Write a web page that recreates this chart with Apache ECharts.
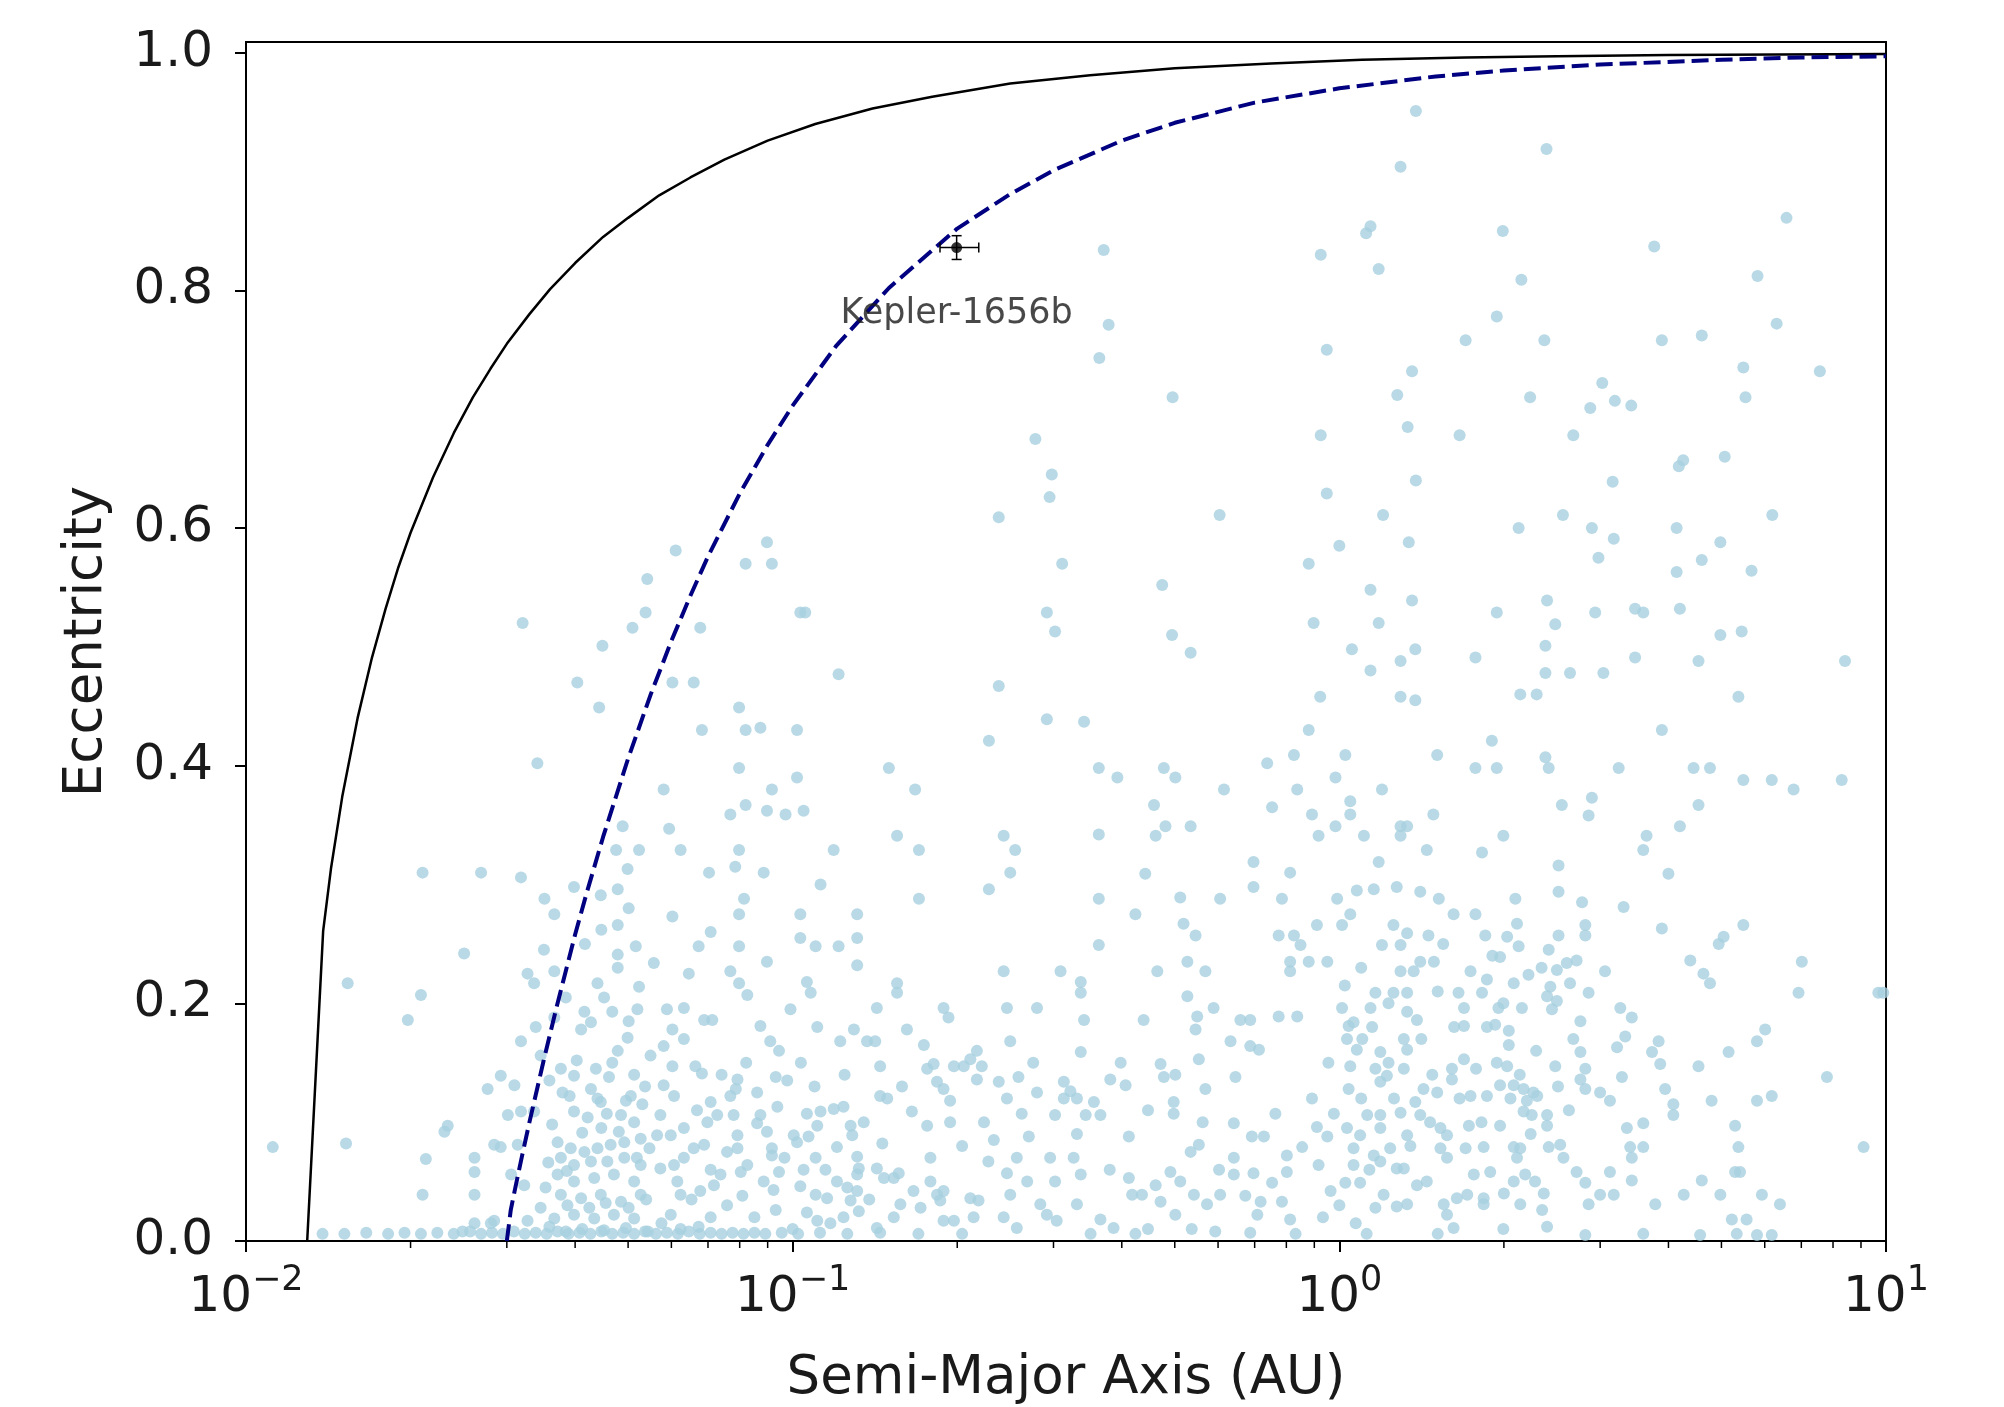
<!DOCTYPE html>
<html>
<head>
<meta charset="utf-8">
<title>Eccentricity vs Semi-Major Axis</title>
<script src="https://cdn.jsdelivr.net/npm/echarts@6.0.0/dist/echarts.min.js"></script>
<style>
  html, body { margin: 0; padding: 0; background: #fff; }
  #chart { width: 2004px; height: 1407px; }
</style>
</head>
<body>
<div id="chart"></div>
<script>
// planets: [log10(semi-major axis / AU), eccentricity]
const highEccentricity = [
  [-0.431,0.834],[-0.422,0.771],[-0.439,0.743],[-0.305,0.710],[-0.556,0.675],[-0.526,0.645],[-0.530,0.626],[-0.623,0.609],[-0.219,0.611],
  [0.140,0.951],[0.379,0.919],[0.112,0.904],[0.057,0.854],[0.049,0.848],[0.299,0.850],[0.818,0.861],[-0.034,0.830],[0.576,0.837],
  [0.072,0.818],[0.333,0.809],[0.765,0.812],[0.288,0.778],[0.800,0.772],[-0.023,0.750],[0.231,0.758],[0.375,0.758],[0.590,0.758],
  [0.663,0.762],[0.879,0.732],[0.133,0.732],[0.739,0.735],[0.481,0.722],[0.106,0.712],[0.349,0.710],[0.459,0.701],[0.504,0.707],
  [0.534,0.703],[0.743,0.710],[-0.034,0.678],[0.125,0.685],[0.220,0.678],[0.428,0.678],[0.629,0.657],[0.621,0.652],[0.705,0.660],
  [0.500,0.639],[0.140,0.640],[-0.023,0.629],[0.080,0.611],[0.409,0.611],[0.792,0.611]
];

const midEccentricity = [
  [-1.494,0.520],[-1.266,0.557],[-1.269,0.529],[-1.293,0.516],[-1.348,0.501],[-1.394,0.470],[-1.354,0.449],[-1.467,0.402],
  [-1.311,0.349],[-1.323,0.329],[-1.281,0.329],[-1.302,0.313],[-1.677,0.310],[-1.570,0.310],[-1.497,0.306],
  [-1.214,0.581],[-1.047,0.588],[-1.086,0.570],[-1.038,0.570],[-0.986,0.529],[-0.977,0.529],[-1.169,0.516],[-1.220,0.470],
  [-1.181,0.470],[-0.916,0.477],[-1.098,0.449],[-1.166,0.430],[-1.086,0.430],[-1.059,0.432],[-0.992,0.430],[-1.098,0.398],
  [-0.992,0.390],[-1.236,0.380],[-1.038,0.380],[-1.086,0.367],[-1.114,0.359],[-1.047,0.362],[-1.013,0.359],[-0.980,0.362],
  [-1.226,0.347],[-1.205,0.329],[-1.098,0.329],[-1.105,0.315],[-1.153,0.310],[-1.053,0.310],[-0.925,0.329],[-0.824,0.398],
  [-0.776,0.380],[-0.809,0.341],[-0.769,0.329],[-0.507,0.570],[-0.535,0.529],[-0.520,0.513],[-0.623,0.467],[-0.535,0.439],
  [-0.641,0.421],[-0.614,0.341],[-0.593,0.329],[-0.602,0.310],
  [0.000,0.585],[0.127,0.588],[-0.056,0.570],[-0.324,0.552],[0.057,0.548],[0.133,0.539],[-0.047,0.520],[0.072,0.520],
  [-0.306,0.510],[-0.272,0.495],[0.023,0.498],[0.139,0.498],[0.112,0.488],[0.057,0.480],[-0.035,0.458],[0.112,0.458],
  [0.139,0.455],[-0.467,0.437],[-0.056,0.430],[-0.083,0.409],[0.011,0.409],[0.179,0.409],[-0.132,0.402],[-0.440,0.398],
  [-0.406,0.390],[-0.321,0.398],[-0.300,0.390],[-0.211,0.380],[-0.077,0.380],[-0.007,0.390],[0.078,0.380],[-0.339,0.367],
  [-0.123,0.365],[-0.050,0.359],[0.020,0.370],[0.020,0.359],[0.172,0.359],[-0.440,0.342],[-0.336,0.341],[-0.318,0.349],
  [-0.272,0.349],[-0.038,0.341],[-0.007,0.349],[0.045,0.341],[0.112,0.349],[0.124,0.349],[0.112,0.341],[0.160,0.329],
  [0.072,0.319],[-0.157,0.319],[-0.355,0.309],[-0.090,0.310],
  [0.328,0.600],[0.462,0.600],[0.502,0.591],[0.617,0.600],[0.697,0.588],[0.663,0.573],[0.617,0.563],[0.474,0.575],
  [0.754,0.564],[0.380,0.539],[0.288,0.529],[0.395,0.519],[0.468,0.529],[0.541,0.532],[0.556,0.529],[0.623,0.532],
  [0.697,0.510],[0.736,0.513],[0.377,0.501],[0.249,0.491],[0.377,0.478],[0.422,0.478],[0.483,0.478],[0.541,0.491],
  [0.657,0.488],[0.925,0.488],[0.331,0.460],[0.361,0.460],[0.730,0.458],[0.590,0.430],[0.279,0.421],[0.249,0.398],
  [0.288,0.398],[0.377,0.407],[0.383,0.398],[0.511,0.398],[0.648,0.398],[0.678,0.398],[0.739,0.388],[0.791,0.388],
  [0.831,0.380],[0.919,0.388],[0.407,0.367],[0.462,0.373],[0.456,0.358],[0.657,0.367],[0.623,0.349],[0.562,0.341],
  [0.556,0.329],[0.300,0.341],[0.261,0.327],[0.401,0.316],[0.602,0.309]
];

const hotLowEcc = [
  [-1.454,0.288],[-1.436,0.275],[-1.400,0.298],[-1.351,0.291],[-1.320,0.296],[-1.320,0.266],[-1.287,0.248],[-1.320,0.241],
  [-1.320,0.230],[-1.485,0.225],[-1.473,0.217],[-1.436,0.227],[-1.357,0.217],[-1.281,0.214],[-1.436,0.188],[-1.381,0.193],
  [-1.330,0.193],[-1.284,0.195],[-1.387,0.178],[-1.369,0.184],[-1.302,0.171],[-1.320,0.160],[-1.461,0.156],[-1.497,0.168],
  [-1.424,0.145],[-1.400,0.139],[-1.421,0.125],[-1.336,0.138],[-1.351,0.117],[-1.296,0.122],[-1.400,0.109],[-1.534,0.139],
  [-1.558,0.128],[-1.509,0.131],[-1.521,0.106],[-1.497,0.109],[-1.473,0.109],[-1.546,0.081],[-1.534,0.079],[-1.503,0.081],
  [-1.369,0.128],[-1.357,0.120],[-1.314,0.106],[-1.290,0.100],[-1.430,0.083],[-1.406,0.078],[-1.381,0.075],[-1.357,0.078],
  [-1.333,0.081],[-1.308,0.083],[-1.278,0.086],[-1.424,0.070],[-1.400,0.064],[-1.369,0.067],[-1.339,0.067],[-1.308,0.070],
  [-1.278,0.064],[-1.430,0.056],[-1.400,0.050],[-1.363,0.053],[-1.327,0.056],[-1.290,0.050],[-1.424,0.039],[-1.387,0.036],
  [-1.351,0.039],[-1.314,0.033],[-1.278,0.039],[-1.436,0.019],[-1.400,0.022],[-1.363,0.019],[-1.327,0.022],[-1.290,0.019],
  [-1.582,0.015],[-1.546,0.017],[-1.485,0.017],[-1.461,0.028],[-1.491,0.047],[-1.515,0.056],[-1.582,0.070],[-1.582,0.058],
  [-1.582,0.039],[-1.631,0.097],[-1.637,0.092],[-1.671,0.069],[-1.677,0.039],[-1.601,0.242],[-1.814,0.217],[-1.680,0.207],
  [-1.704,0.186],[-1.951,0.079],[-1.817,0.082],[-1.604,0.008],[-1.552,0.015],
  [-1.445,0.012],[-1.415,0.008],[-1.385,0.010],[-1.345,0.009],[-1.305,0.011],[-1.265,0.008],
  [-1.452,0.045],[-1.412,0.030],[-1.372,0.028],[-1.342,0.032],[-1.300,0.028],[-1.268,0.035],
  [-1.447,0.066],[-1.413,0.059],[-1.385,0.091],[-1.350,0.095],[-1.318,0.092],[-1.285,0.070],[-1.262,0.078],
  [-1.440,0.098],[-1.408,0.122],[-1.375,0.104],[-1.340,0.107],[-1.305,0.118],[-1.275,0.115],
  [-1.445,0.135],[-1.395,0.152],[-1.360,0.145],[-1.330,0.150],[-1.290,0.140],[-1.270,0.130],
  [-1.470,0.180],[-1.415,0.205],[-1.345,0.205],[-1.300,0.185],[-1.455,0.245],[-1.380,0.250],[-1.350,0.262],[-1.300,0.280]
];

// near-circular orbits sitting just above the axis
const circularRow = [
  [-1.86,0.006],[-1.82,0.006],[-1.78,0.007],[-1.74,0.006],[-1.71,0.007],[-1.68,0.006],[-1.65,0.007],[-1.62,0.006],
  [-1.59,0.008],[-1.57,0.006],[-1.55,0.007],[-1.53,0.006],[-1.51,0.008],[-1.49,0.006],[-1.47,0.007],[-1.45,0.006],
  [-1.43,0.008],[-1.41,0.006],[-1.39,0.007],[-1.37,0.006],[-1.35,0.008],[-1.33,0.006],[-1.31,0.007],[-1.29,0.006],
  [-1.27,0.008],[-1.25,0.006],[-1.23,0.007],[-1.21,0.006],[-1.19,0.008],[-1.17,0.006],[-1.15,0.007],[-1.13,0.006],
  [-1.11,0.007],[-1.09,0.006],[-1.07,0.007],[-1.05,0.006],[-1.02,0.007],[-0.99,0.006],[-0.95,0.007],[-0.90,0.006],
  [-0.84,0.007],[-0.77,0.006],[-0.69,0.006],[-0.455,0.006],[-0.373,0.006],[-0.163,0.007],[-0.08,0.006],[0.05,0.006],[0.18,0.006]
];

const warmLowEcc = [
  [-1.220,0.273],[-1.089,0.288],[-1.098,0.275],[-1.150,0.260],[-1.172,0.248],[-1.098,0.248],[-1.047,0.235],[-0.986,0.275],
  [-0.882,0.275],[-0.986,0.255],[-0.958,0.248],[-0.916,0.248],[-0.882,0.255],[-0.882,0.232],[-0.949,0.300],[-0.769,0.288],
  [-0.641,0.296],[-1.254,0.234],[-1.114,0.227],[-1.098,0.217],[-1.083,0.207],[-0.974,0.218],[-0.967,0.209],[-1.004,0.195],
  [-1.199,0.196],[-1.162,0.186],[-1.147,0.186],[-0.809,0.217],[-0.809,0.209],[-0.846,0.196],[-0.724,0.196],[-0.715,0.188],
  [-0.614,0.227],[-0.510,0.227],[-0.608,0.196],[-0.553,0.196],[-0.602,0.168],[-0.791,0.178],[-0.888,0.178],[-0.913,0.168],
  [-0.864,0.168],[-0.849,0.168],[-0.840,0.147],[-1.059,0.181],[-1.041,0.168],[-1.025,0.160],[-1.031,0.138],[-1.101,0.136],
  [-1.104,0.128],[-1.114,0.122],[-1.166,0.141],[-1.178,0.147],[-1.220,0.147],[-1.199,0.170],[-1.236,0.164],[-1.220,0.178],
  [-1.260,0.156],[-1.236,0.131],[-1.217,0.122],[-1.242,0.106],[-1.150,0.117],[-1.138,0.106],[-1.108,0.106],[-1.156,0.100],
  [-1.199,0.095],[-1.223,0.089],[-1.248,0.089],[-1.181,0.078],[-1.162,0.081],[-1.199,0.070],[-1.217,0.064],[-1.242,0.061],
  [-1.211,0.050],[-1.205,0.039],[-1.169,0.042],[-1.144,0.047],[-1.132,0.056],[-1.095,0.058],[-1.083,0.064],[-1.101,0.078],
  [-1.101,0.089],[-1.092,0.038],[-1.223,0.022],[-1.172,0.012],[-1.028,0.113],[-1.059,0.106],[-1.065,0.099],[-1.047,0.092],
  [-1.038,0.078],[-1.038,0.072],[-1.025,0.058],[-1.053,0.050],[-1.035,0.043],[-1.031,0.026],[-0.998,0.089],[-0.992,0.083],
  [-0.971,0.088],[-0.974,0.107],[-0.949,0.109],[-0.955,0.097],[-0.925,0.111],[-0.907,0.113],[-0.894,0.097],[-0.891,0.089],
  [-0.919,0.079],[-0.958,0.070],[-0.882,0.071],[-0.879,0.061],[-0.882,0.056],[-0.986,0.046],[-0.958,0.039],[-0.937,0.036],
  [-0.919,0.050],[-0.900,0.045],[-0.882,0.042],[-0.894,0.034],[-0.879,0.025],[-0.974,0.024],[-0.955,0.017],[-0.931,0.015],
  [-0.907,0.020],[-0.840,0.122],[-0.827,0.120],[-0.836,0.082],[-0.846,0.061],[-0.833,0.053],[-0.815,0.053],[-0.806,0.057],
  [-0.803,0.031],[-0.815,0.020],[-0.846,0.011],[-0.782,0.109],[-0.754,0.097],[-0.712,0.100],[-0.748,0.070],[-0.779,0.042],
  [-0.766,0.028],[-0.748,0.050],[-0.736,0.039],[-0.724,0.042],[-0.730,0.034],[-0.724,0.017],[-0.705,0.017],[-0.754,0.145],
  [-0.742,0.149],[-0.736,0.134],[-0.724,0.128],[-0.712,0.118],[-0.705,0.147],[-0.687,0.147],[-0.675,0.153],[-0.663,0.160],
  [-0.654,0.147],[-0.663,0.136],[-0.623,0.134],[-0.587,0.138],[-0.553,0.125],[-0.608,0.120],[-0.581,0.107],[-0.520,0.106],
  [-0.568,0.088],[-0.632,0.085],[-0.642,0.067],[-0.608,0.057],[-0.590,0.070],[-0.529,0.070],[-0.571,0.050],[-0.602,0.039],
  [-0.675,0.036],[-0.660,0.034],[-0.669,0.020],[-0.614,0.020],[-0.590,0.011],[-0.547,0.031],[-0.535,0.022],[-0.517,0.017],
  [-0.504,0.134],[-0.504,0.120],
  [-1.240,0.015],[-1.205,0.010],[-1.150,0.020],[-1.120,0.030],[-1.185,0.035],[-1.150,0.060],[-1.120,0.075],[-1.175,0.110],
  [-1.130,0.140],[-1.085,0.150],[-1.065,0.125],[-1.010,0.135],[-0.985,0.150],[-0.960,0.130],[-1.015,0.070],[-0.980,0.060],
  [-1.070,0.020],[-1.000,0.010],[-0.940,0.060],[-0.905,0.140],[-0.870,0.100],[-0.860,0.035],[-0.955,0.180],[-1.190,0.225],
  [-1.230,0.195],[-0.800,0.130],[-0.760,0.165],[-0.690,0.080],[-0.650,0.100],[-0.560,0.150],[-0.520,0.050]
];

const temperateLowEcc = [
  [-0.440,0.288],[-0.373,0.275],[-0.440,0.249],[-0.291,0.289],[-0.285,0.267],[-0.263,0.257],[-0.278,0.235],[-0.245,0.227],
  [-0.333,0.227],[-0.218,0.288],[-0.157,0.298],[-0.105,0.288],[-0.111,0.257],[-0.083,0.257],[-0.071,0.249],[-0.090,0.235],
  [-0.090,0.227],[-0.056,0.235],[-0.022,0.235],[-0.041,0.266],[-0.004,0.288],[0.005,0.266],[0.020,0.275],[0.032,0.295],
  [0.063,0.296],[0.105,0.298],[0.148,0.294],[0.182,0.288],[0.209,0.275],[0.099,0.266],[0.124,0.259],[0.163,0.257],
  [0.078,0.249],[0.112,0.249],[0.148,0.235],[0.173,0.235],[0.112,0.227],[0.136,0.227],[0.240,0.227],[-0.473,0.218],
  [-0.473,0.209],[-0.467,0.186],[-0.358,0.186],[-0.278,0.206],[-0.260,0.189],[-0.230,0.196],[-0.263,0.178],[-0.181,0.186],
  [-0.163,0.186],[-0.111,0.189],[-0.077,0.189],[-0.473,0.159],[-0.199,0.168],[-0.163,0.164],[-0.147,0.161],[-0.257,0.153],
  [-0.327,0.149],[-0.321,0.138],[-0.419,0.136],[-0.391,0.131],[-0.245,0.128],[-0.190,0.138],[-0.492,0.126],[-0.480,0.120],
  [-0.464,0.106],[-0.449,0.117],[-0.437,0.106],[-0.303,0.117],[-0.303,0.107],[-0.385,0.088],[-0.486,0.070],[-0.473,0.056],
  [-0.480,0.031],[-0.437,0.018],[-0.413,0.011],[-0.385,0.053],[-0.379,0.039],[-0.361,0.039],[-0.336,0.047],[-0.327,0.033],
  [-0.300,0.022],[-0.309,0.058],[-0.291,0.050],[-0.266,0.039],[-0.242,0.031],[-0.272,0.075],[-0.257,0.081],[-0.218,0.039],
  [-0.227,0.008],[-0.193,0.099],[-0.160,0.088],[-0.138,0.088],[-0.193,0.070],[-0.193,0.056],[-0.157,0.057],[-0.172,0.038],
  [-0.144,0.033],[-0.150,0.022],[-0.123,0.049],[-0.105,0.033],[-0.090,0.018],[-0.096,0.058],[-0.096,0.072],[-0.068,0.079],
  [-0.117,0.107],[-0.041,0.096],[-0.022,0.088],[-0.010,0.107],[-0.038,0.064],[-0.016,0.042],[0.011,0.049],[0.038,0.049],
  [0.014,0.095],[0.026,0.078],[0.026,0.064],[0.038,0.089],[0.051,0.106],[0.075,0.106],[0.075,0.095],[0.063,0.072],
  [0.075,0.067],[0.093,0.078],[0.105,0.061],[0.118,0.061],[0.124,0.089],[0.112,0.108],[0.139,0.117],[0.148,0.106],
  [0.166,0.100],[0.185,0.095],[0.197,0.089],[0.185,0.078],[0.197,0.070],[0.142,0.047],[0.124,0.031],[0.105,0.029],
  [0.081,0.039],[0.066,0.028],[0.237,0.097],[0.231,0.078],[0.246,0.056],[0.240,0.122],[0.228,0.153],[0.206,0.145],
  [0.206,0.136],[0.154,0.128],[0.179,0.125],[0.118,0.145],[0.124,0.161],[0.118,0.170],[0.075,0.159],[0.066,0.145],
  [0.075,0.134],[0.087,0.139],[0.017,0.128],[0.020,0.147],[0.014,0.170],[0.017,0.181],[0.026,0.184],[0.042,0.170],
  [0.032,0.161],[0.005,0.196],[0.057,0.196],[0.066,0.209],[0.099,0.209],[0.124,0.209],[0.142,0.186],[0.124,0.193],
  [0.218,0.209],[0.228,0.196],[0.228,0.181],[0.197,0.022],[0.209,0.011],[0.215,0.036],[0.234,0.039],[0.191,0.031],
  [-0.480,0.090],[-0.420,0.060],[-0.400,0.150],[-0.350,0.110],[-0.300,0.140],[-0.250,0.100],[-0.220,0.060],[-0.270,0.010],
  [-0.350,0.010],[-0.030,0.020],[0.000,0.030],[0.030,0.015],[0.055,0.060],[0.040,0.120],[0.060,0.180],[0.090,0.150],
  [0.100,0.120],[0.130,0.080],[0.160,0.050],[0.170,0.140],[0.150,0.170],[0.180,0.210],[0.190,0.250],[0.210,0.180],
  [0.220,0.120],[0.090,0.200],[0.040,0.230],[0.010,0.215],[-0.020,0.150],[-0.050,0.120]
];

const coldLowEcc = [
  [0.322,0.288],[0.401,0.294],[0.444,0.285],[0.520,0.281],[0.249,0.275],[0.325,0.267],[0.267,0.257],[0.307,0.256],
  [0.328,0.248],[0.294,0.239],[0.401,0.257],[0.450,0.266],[0.450,0.257],[0.383,0.245],[0.590,0.263],[0.694,0.250],
  [0.703,0.256],[0.739,0.266],[0.642,0.236],[0.666,0.225],[0.678,0.217],[0.846,0.235],[0.840,0.209],[0.986,0.209],
  [0.270,0.220],[0.261,0.209],[0.319,0.217],[0.346,0.224],[0.398,0.228],[0.416,0.234],[0.434,0.236],[0.386,0.214],
  [0.422,0.217],[0.380,0.206],[0.398,0.202],[0.389,0.195],[0.456,0.209],[0.486,0.227],[0.291,0.196],[0.334,0.196],
  [0.285,0.182],[0.310,0.177],[0.514,0.196],[0.535,0.188],[0.523,0.172],[0.508,0.163],[0.441,0.185],[0.428,0.170],
  [0.441,0.159],[0.584,0.168],[0.572,0.159],[0.587,0.149],[0.764,0.168],[0.779,0.178],[0.712,0.159],[0.657,0.147],
  [0.395,0.147],[0.288,0.150],[0.307,0.147],[0.450,0.145],[0.441,0.136],[0.450,0.128],[0.477,0.125],[0.495,0.118],
  [0.517,0.138],[0.596,0.128],[0.611,0.115],[0.611,0.106],[0.681,0.118],[0.764,0.118],[0.791,0.122],[0.892,0.138],
  [0.294,0.131],[0.319,0.131],[0.337,0.128],[0.355,0.125],[0.270,0.122],[0.313,0.120],[0.343,0.118],[0.362,0.122],
  [0.337,0.109],[0.352,0.106],[0.380,0.106],[0.380,0.097],[0.294,0.097],[0.264,0.079],[0.319,0.079],[0.331,0.078],
  [0.325,0.070],[0.383,0.079],[0.404,0.081],[0.410,0.070],[0.526,0.095],[0.556,0.099],[0.532,0.079],[0.556,0.079],
  [0.535,0.070],[0.724,0.097],[0.730,0.079],[0.724,0.058],[0.733,0.058],[0.959,0.079],[0.276,0.058],[0.264,0.036],
  [0.264,0.031],[0.301,0.040],[0.319,0.050],[0.340,0.056],[0.358,0.050],[0.374,0.040],[0.371,0.026],[0.331,0.031],
  [0.434,0.058],[0.450,0.049],[0.477,0.039],[0.502,0.039],[0.456,0.031],[0.495,0.058],[0.535,0.051],[0.578,0.031],
  [0.630,0.039],[0.663,0.051],[0.697,0.039],[0.773,0.039],[0.806,0.031],[0.718,0.018],[0.745,0.018],[0.450,0.005],
  [0.556,0.006],[0.660,0.005],[0.727,0.006],[0.764,0.005],[0.791,0.005],[0.995,0.209],
  [0.250,0.145],[0.260,0.100],[0.270,0.180],[0.280,0.240],[0.300,0.200],[0.310,0.165],[0.330,0.140],[0.350,0.090],
  [0.360,0.160],[0.370,0.230],[0.400,0.130],[0.420,0.110],[0.300,0.010],[0.380,0.012]
];

// solid black limit curve
const solidLimitA = [0.01294, 0.01384, 0.0143, 0.015, 0.016, 0.017, 0.018, 0.019, 0.020, 0.022, 0.024, 0.026, 0.028, 0.030, 0.033, 0.036, 0.040, 0.045, 0.050, 0.057, 0.065, 0.075, 0.09, 0.11, 0.14, 0.18, 0.25, 0.35, 0.5, 0.75, 1.1, 1.7, 2.5, 4, 10];
const solidLimitE = [0, 0.261, 0.313, 0.374, 0.440, 0.491, 0.532, 0.567, 0.596, 0.643, 0.680, 0.710, 0.734, 0.755, 0.780, 0.801, 0.823, 0.845, 0.861, 0.880, 0.895, 0.910, 0.926, 0.940, 0.953, 0.963, 0.974, 0.981, 0.987, 0.991, 0.994, 0.996, 0.997, 0.998, 0.999];

// dashed navy curve
const dashedLimitA = [0.0300, 0.0305, 0.031, 0.032, 0.033, 0.035, 0.037, 0.04, 0.042, 0.045, 0.05, 0.055, 0.06, 0.065, 0.07, 0.08, 0.09, 0.1, 0.12, 0.15, 0.2, 0.25, 0.3, 0.4, 0.5, 0.7, 1, 1.5, 2, 3, 5, 7, 10];
const dashedLimitE = [0, 0.026, 0.042, 0.072, 0.100, 0.151, 0.197, 0.258, 0.293, 0.340, 0.406, 0.460, 0.505, 0.543, 0.576, 0.629, 0.670, 0.703, 0.753, 0.802, 0.852, 0.881, 0.901, 0.926, 0.941, 0.958, 0.970, 0.980, 0.985, 0.990, 0.994, 0.996, 0.997];

// Kepler-1656b: a, e, a low, a high, e low, e high
const kepler1656b = [0.1995, 0.836, 0.186, 0.219, 0.826, 0.846];

const yTicks = [0, 0.2, 0.4, 0.6, 0.8, 1.0];
const xMinorTicks = [0.02, 0.03, 0.04, 0.05, 0.06, 0.07, 0.08, 0.09, 0.2, 0.3, 0.4, 0.5, 0.6, 0.7, 0.8, 0.9, 2, 3, 4, 5, 6, 7, 8, 9];

const FONT = 'DejaVu Sans';
const INK = '#1a1a1a';

const planets = [].concat(highEccentricity, midEccentricity, hotLowEcc, circularRow, warmLowEcc, temperateLowEcc, coldLowEcc)
  .map(p => [Math.pow(10, p[0]), p[1]]);

const zip = (xs, ys) => xs.map((x, i) => [x, ys[i]]);

const chart = echarts.init(document.getElementById('chart'));

chart.setOption({
  animation: false,
  backgroundColor: '#fff',
  grid: {
    left: 246, right: 118, top: 42, bottom: 166,
    outerBoundsMode: 'none',
    containLabel: false,
    show: true, borderColor: '#000', borderWidth: 2, backgroundColor: '#fff'
  },
  xAxis: {
    type: 'log',
    logBase: 10,
    min: 0.01,
    max: 10,
    name: 'Semi-Major Axis (AU)',
    nameLocation: 'middle',
    nameGap: 112,
    nameTextStyle: { fontFamily: FONT, fontSize: 53, color: INK },
    axisLine: { onZero: false, lineStyle: { color: '#000', width: 2 } },
    axisTick: { show: true, inside: false, length: 11, lineStyle: { color: '#000', width: 2 } },
    splitLine: { show: false },
    axisLabel: {
      margin: 22,
      showMinLabel: true,
      showMaxLabel: true,
      formatter: function (v) {
        const p = Math.round(Math.log10(v));
        const s = p < 0 ? '\u2212' + (-p) : String(p);
        return '{base|10}{sup|' + s + '}';
      },
      rich: {
        base: { fontFamily: FONT, fontSize: 50, color: INK, lineHeight: 60, verticalAlign: 'bottom' },
        sup: { fontFamily: FONT, fontSize: 35, color: INK, lineHeight: 34, verticalAlign: 'top' }
      }
    }
  },
  yAxis: {
    type: 'value',
    min: 0,
    max: 1.009,
    name: 'Eccentricity',
    nameLocation: 'middle',
    nameGap: 132,
    nameRotate: 90,
    nameTextStyle: { fontFamily: FONT, fontSize: 53, color: INK },
    axisLine: { show: true, lineStyle: { color: '#000', width: 2 } },
    axisTick: { show: true, inside: false, length: 11, customValues: yTicks, lineStyle: { color: '#000', width: 2 } },
    splitLine: { show: false },
    axisLabel: {
      customValues: yTicks,
      margin: 33,
      fontFamily: FONT,
      fontSize: 50,
      color: INK,
      formatter: v => v.toFixed(1)
    }
  },
  series: [
    {
      name: 'minor ticks',
      type: 'custom',
      clip: false,
      silent: true,
      z: 1,
      data: xMinorTicks.map(v => [v, 0]),
      renderItem: function (params, api) {
        const p = api.coord([api.value(0), 0]);
        return {
          type: 'line',
          shape: { x1: p[0], y1: p[1], x2: p[0], y2: p[1] + 7 },
          style: { stroke: '#000', lineWidth: 1.5 }
        };
      }
    },
    {
      name: 'planets',
      type: 'scatter',
      silent: true,
      z: 2,
      symbol: 'circle',
      symbolSize: 12,
      itemStyle: { color: '#a6d0df' },
      data: planets
    },
    {
      name: 'solid limit',
      type: 'line',
      silent: true,
      z: 3,
      showSymbol: false,
      lineStyle: { color: '#000', width: 2.5 },
      data: zip(solidLimitA, solidLimitE)
    },
    {
      name: 'dashed limit',
      type: 'line',
      silent: true,
      z: 3,
      showSymbol: false,
      lineStyle: { color: '#000080', width: 4, type: [17, 7] },
      data: zip(dashedLimitA, dashedLimitE)
    },
    {
      name: 'error bars',
      type: 'custom',
      silent: true,
      z: 4,
      data: [kepler1656b],
      renderItem: function (params, api) {
        const c = api.coord([api.value(0), api.value(1)]);
        const xl = api.coord([api.value(2), api.value(1)]);
        const xh = api.coord([api.value(3), api.value(1)]);
        const yl = api.coord([api.value(0), api.value(4)]);
        const yh = api.coord([api.value(0), api.value(5)]);
        const st = { stroke: '#000', lineWidth: 1.5 };
        const cap = 5;
        return {
          type: 'group',
          children: [
            { type: 'line', shape: { x1: xl[0], y1: c[1], x2: xh[0], y2: c[1] }, style: st },
            { type: 'line', shape: { x1: xl[0], y1: c[1] - cap, x2: xl[0], y2: c[1] + cap }, style: st },
            { type: 'line', shape: { x1: xh[0], y1: c[1] - cap, x2: xh[0], y2: c[1] + cap }, style: st },
            { type: 'line', shape: { x1: c[0], y1: yl[1], x2: c[0], y2: yh[1] }, style: st },
            { type: 'line', shape: { x1: c[0] - cap, y1: yl[1], x2: c[0] + cap, y2: yl[1] }, style: st },
            { type: 'line', shape: { x1: c[0] - cap, y1: yh[1], x2: c[0] + cap, y2: yh[1] }, style: st }
          ]
        };
      }
    },
    {
      name: 'Kepler-1656b',
      type: 'scatter',
      silent: true,
      z: 5,
      symbol: 'circle',
      symbolSize: 11,
      itemStyle: { color: '#000' },
      label: {
        show: true,
        position: 'bottom',
        distance: 43,
        formatter: 'Kepler-1656b',
        fontFamily: FONT,
        fontSize: 35,
        color: INK
      },
      data: [[kepler1656b[0], kepler1656b[1]]]
    }
  ]
});
</script>
</body>
</html>
